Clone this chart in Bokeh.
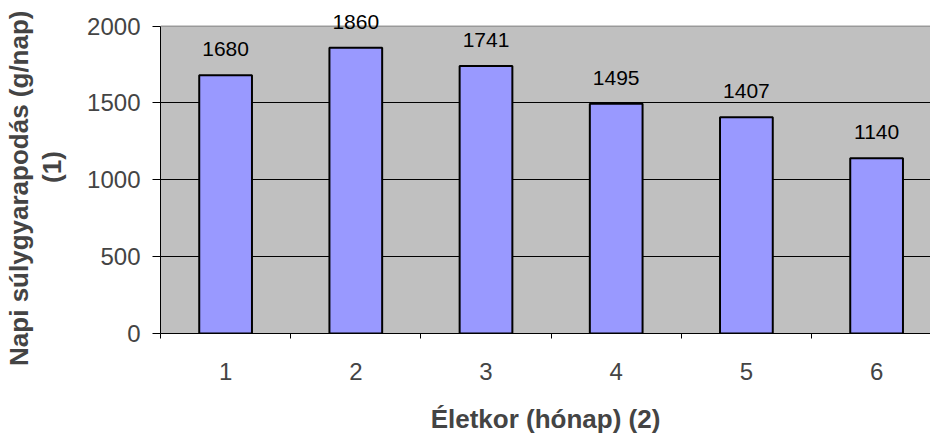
from bokeh.plotting import figure
from bokeh.models import (ColumnDataSource, Range1d, FixedTicker, Title, LabelSet,
                          BoxAnnotation, Span)
from bokeh.embed import file_html
from bokeh.resources import INLINE
from bokeh.core.properties import value

months = [1, 2, 3, 4, 5, 6]
gains = [1680, 1860, 1741, 1495, 1407, 1140]
labels = [str(v) for v in gains]
y_ticks = [0, 500, 1000, 1500, 2000]
y_max = 2000

src = ColumnDataSource(dict(x=months, top=gains, label=labels))

FONT = "Liberation Sans"

# frame extends 26px above the plot area so the top value label is not clipped
p = figure(width=930, height=436, output_backend="svg", toolbar_location=None,
           x_range=Range1d(0.5, 0.5 + 770 / 130.2),
           y_range=Range1d(0, y_max * 338 / 312),
           min_border_left=160, min_border_top=0, min_border_bottom=98,
           min_border_right=0)
p.background_fill_color = "white"
p.border_fill_color = "white"
p.outline_line_color = None

p.add_layout(BoxAnnotation(bottom=0, top=y_max, fill_color="#C0C0C0",
                           fill_alpha=1, line_color=None, level="image"))
p.add_layout(Span(location=y_max, dimension="width", line_color="#808080",
                  line_width=1, level="underlay"))

p.vbar(x="x", top="top", width=0.405, source=src, fill_color="#9999FF",
       line_color="black", line_width=2)

p.add_layout(LabelSet(x="x", y="top", text="label", source=src,
                      text_align="center", text_baseline="alphabetic",
                      y_offset=19, text_font=value(FONT),
                      text_font_size=value("21px"), text_color="black"))

p.xgrid.visible = False
p.ygrid.ticker = FixedTicker(ticks=[500, 1000, 1500])
p.ygrid.grid_line_color = "black"
p.ygrid.grid_line_width = 1

xa = p.xaxis[0]
xa.ticker = FixedTicker(ticks=months, minor_ticks=[0.5 + i for i in range(7)])
xa.major_tick_in = 0
xa.major_tick_out = 0
xa.minor_tick_in = 0
xa.minor_tick_out = 5
xa.minor_tick_line_color = "black"
xa.axis_line_color = "black"
xa.major_label_text_font = FONT
xa.major_label_text_font_size = "24px"
xa.major_label_standoff = 24
xa.axis_label = "Életkor (hónap) (2)"
xa.axis_label_text_font = FONT
xa.axis_label_text_font_size = "26px"
xa.axis_label_text_font_style = "bold"
xa.axis_label_standoff = 21

ya = p.yaxis[0]
ya.ticker = FixedTicker(ticks=y_ticks)
ya.bounds = (0, y_max)
ya.major_tick_in = 0
ya.major_tick_out = 8
ya.minor_tick_out = 0
ya.minor_tick_in = 0
ya.axis_line_color = "black"
ya.major_tick_line_color = "black"
ya.major_label_text_font = FONT
ya.major_label_text_font_size = "24px"
ya.major_label_standoff = 12
ya.axis_label = "(1)"
ya.axis_label_text_font = FONT
ya.axis_label_text_font_size = "26px"
ya.axis_label_text_font_style = "bold"
ya.axis_label_standoff = 17

p.add_layout(Title(text="Napi súlygyarapodás (g/nap)", align="right",
                   offset=10, standoff=2, text_font=FONT,
                   text_font_size="26px", text_font_style="bold"), "left")

open("out.html", "w").write(file_html(p, INLINE))
